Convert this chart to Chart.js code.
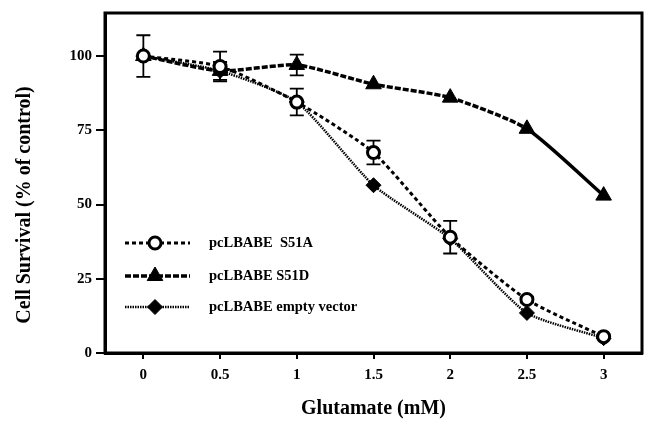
<!DOCTYPE html>
<html>
<head>
<meta charset="utf-8">
<script src="https://cdn.jsdelivr.net/npm/chart.js@4"></script>
<style>
  html, body { margin: 0; padding: 0; background: #fff; }
  #wrap { width: 652px; height: 425px; position: relative; }
</style>
</head>
<body>
<div id="wrap"><canvas id="chart" width="652" height="425"></canvas></div>
<script>
// glutamate concentrations (mM)
const doses = [0, 0.5, 1, 1.5, 2, 2.5, 3];
const xTicks = [0, 0.5, 1, 1.5, 2, 2.5, 3];
const xTickLabels = ['0', '0.5', '1', '1.5', '2', '2.5', '3'];
const yTicks = [0, 25, 50, 75, 100];

const labels = ['pcLBABE  S51A', 'pcLBABE S51D', 'pcLBABE empty vector'];
const s51a = [100, 96.5, 84.5, 67.5, 39, 18, 5.5];
const s51d = [100, 95, 97, 90.5, 86, 75.5, 53];
const empty = [100, 95, 84.5, 56.5, 38.5, 13.5, 5];
// error bar half-widths
const errA = [7, 5, 4.5, 4, 5.5, 1, 0];
const errD = [0, 0, 3.5, 0, 0, 0, 0];
const errE = [0, 3, 0, 0, 0, 0, 0];

const FONT = '"Liberation Serif", "Times New Roman", serif';
const yTitle = 'Cell Survival (% of control)';

const pts = arr => doses.map((d, i) => ({ x: d, y: arr[i] }));

const errorBars = {
  id: 'errorBars',
  beforeDatasetsDraw(chart) {
    const { ctx, scales: { x, y } } = chart;
    const errs = [errA, errD, errE];
    ctx.save();
    ctx.strokeStyle = '#000';
    ctx.lineWidth = 1.8;
    chart.data.datasets.forEach((ds, di) => {
      ds.data.forEach((p, i) => {
        const e = errs[di][i];
        if (!e) return;
        const px = x.getPixelForValue(p.x);
        const top = y.getPixelForValue(p.y + e);
        const bot = y.getPixelForValue(p.y - e);
        ctx.beginPath();
        ctx.moveTo(px, top); ctx.lineTo(px, bot);
        ctx.moveTo(px - 7, top); ctx.lineTo(px + 7, top);
        ctx.moveTo(px - 7, bot); ctx.lineTo(px + 7, bot);
        ctx.stroke();
      });
    });
    ctx.restore();
  }
};

const frameAndLegend = {
  id: 'frameAndLegend',
  afterDraw(chart) {
    const { ctx, chartArea: a } = chart;
    ctx.save();
    ctx.strokeStyle = '#000';
    ctx.lineWidth = 3;
    ctx.strokeRect(a.left, a.top, a.right - a.left, a.bottom - a.top);

    // y axis title, sits a little below the middle in the original
    ctx.save();
    ctx.translate(25, 205);
    ctx.rotate(-Math.PI / 2);
    ctx.fillStyle = '#000';
    ctx.font = 'bold 20px ' + FONT;
    ctx.textAlign = 'center';
    ctx.textBaseline = 'middle';
    ctx.fillText(yTitle, 0, 0);
    ctx.restore();

    // legend inside the plot
    const rows = [243, 276, 307];
    chart.data.datasets.forEach((ds, i) => {
      const yy = rows[i];
      ctx.strokeStyle = '#000';
      ctx.lineWidth = ds.borderWidth;
      ctx.setLineDash(ds.borderDash);
      ctx.beginPath();
      ctx.moveTo(125, yy); ctx.lineTo(190, yy);
      ctx.stroke();
      ctx.setLineDash([]);
      ctx.fillStyle = ds.pointBackgroundColor;
      ctx.strokeStyle = '#000';
      ctx.lineWidth = ds.pointBorderWidth;
      Chart.helpers.drawPoint(ctx, {
        pointStyle: ds.pointStyle, radius: ds.pointRadius,
        borderWidth: ds.pointBorderWidth, rotation: 0
      }, 155, yy);
      ctx.fillStyle = '#000';
      ctx.font = 'bold 14.5px ' + FONT;
      ctx.textBaseline = 'middle';
      ctx.fillText(ds.label, 209, yy);
    });
    ctx.restore();
  }
};

new Chart(document.getElementById('chart'), {
  type: 'line',
  data: {
    datasets: [
      { label: labels[0], data: pts(s51a), borderColor: '#000', borderWidth: 3, borderDash: [4, 3],
        pointStyle: 'circle', pointRadius: 6, pointBorderWidth: 3, pointBackgroundColor: '#fff', pointBorderColor: '#000' },
      { label: labels[1], data: pts(s51d), borderColor: '#000', borderWidth: 3.5, borderDash: [6, 2],
        segment: { borderDash: c => c.p0DataIndex === 5 ? [] : undefined },
        pointStyle: 'triangle', pointRadius: 9, pointBorderWidth: 1, pointBackgroundColor: '#000', pointBorderColor: '#000' },
      { label: labels[2], data: pts(empty), borderColor: '#000', borderWidth: 2.5, borderDash: [1.5, 1],
        pointStyle: 'rectRot', pointRadius: 7.5, pointBorderWidth: 1, pointBackgroundColor: '#000', pointBorderColor: '#000' }
    ]
  },
  options: {
    responsive: false,
    animation: false,
    layout: { padding: { top: 12, right: 6, left: 0, bottom: 0 } },
    plugins: { legend: { display: false }, tooltip: { enabled: false } },
    elements: { line: { tension: 0.2 } },
    scales: {
      x: {
        type: 'linear', min: -0.25, max: 3.25,
        afterBuildTicks: s => { s.ticks = xTicks.map(v => ({ value: v })); },
        afterFit: s => { s.height = 72; },
        grid: { display: true, drawOnChartArea: false, color: '#000', tickLength: 6, lineWidth: 2 },
        border: { display: true, color: '#000', width: 3 },
        ticks: { color: '#000', font: { family: FONT, size: 15, weight: 'bold' }, padding: 7,
                 callback: (v, i) => xTickLabels[i] },
        title: { display: true, text: 'Glutamate (mM)', color: '#000',
                 font: { family: FONT, size: 20, weight: 'bold' }, padding: { top: 10 } }
      },
      y: {
        type: 'linear', min: 0, max: 114.5,
        afterBuildTicks: s => { s.ticks = yTicks.map(v => ({ value: v })); },
        afterFit: s => { s.width = 105; },
        grid: { display: true, drawOnChartArea: false, color: '#000', tickLength: 9, lineWidth: 2 },
        border: { display: true, color: '#000', width: 3 },
        ticks: { color: '#000', font: { family: FONT, size: 15, weight: 'bold' }, padding: 4 },
        title: { display: false }
      }
    }
  },
  plugins: [errorBars, frameAndLegend]
});
</script>
</body>
</html>
